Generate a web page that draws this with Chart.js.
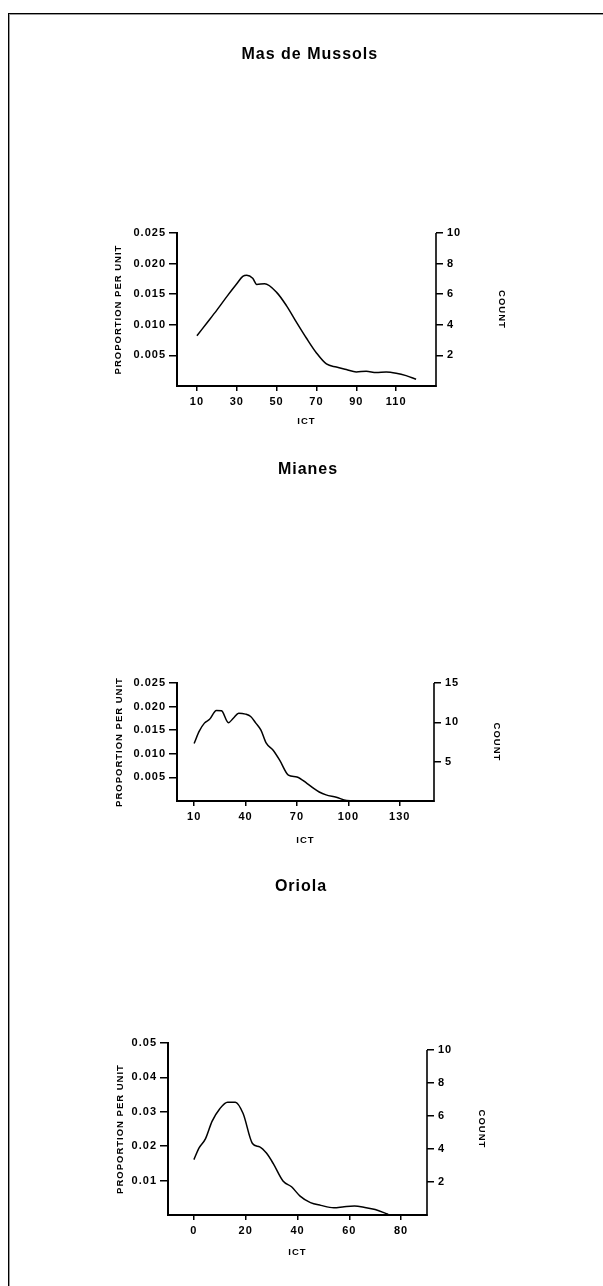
<!DOCTYPE html>
<html>
<head>
<meta charset="utf-8">
<script src="https://cdn.jsdelivr.net/npm/chart.js@4"></script>
<style>
  html, body { margin: 0; padding: 0; background: #fff; }
  body { width: 603px; height: 1286px; position: relative; overflow: hidden; }
  .frame { position: absolute; left: 8px; top: 13px; right: -4px; bottom: -4px;
           border-top: 1px solid #000; border-left: 1px solid #000; box-shadow: inset 1px 1px 0 #999; }
  canvas { position: absolute; left: 0; }
</style>
</head>
<body>
<div class="frame"></div>
<canvas id="c1" width="603" height="440" style="top:0px"></canvas>
<canvas id="c2" width="603" height="420" style="top:440px"></canvas>
<canvas id="c3" width="603" height="426" style="top:860px"></canvas>
<script>
// Mas de Mussols
var masIct = [10, 15, 20, 25, 30, 33, 35, 38, 40, 44, 50, 55, 60, 65, 70, 75, 80, 85, 90, 95, 100, 105, 110, 115, 120];
var masProp = [0.0082, 0.0103, 0.0124, 0.0146, 0.0167, 0.0179, 0.0181, 0.0176, 0.0166, 0.0167, 0.0153, 0.0131, 0.0104,
  0.0078, 0.0054, 0.0036, 0.0031, 0.0027, 0.0023, 0.0024, 0.0022, 0.0023, 0.0021, 0.0017, 0.0011];
var masXTicks = [10, 30, 50, 70, 90, 110];
var masPropTicks = [0.005, 0.010, 0.015, 0.020, 0.025];
var masCountTicks = [2, 4, 6, 8, 10];

// Mianes
var mianesIct = [10, 13, 16, 19, 23, 26, 30, 33, 36, 40, 43, 46, 49, 52, 56, 60, 65, 70, 76, 80, 83, 87, 93, 99, 110, 125, 145];
var mianesProp = [0.0122, 0.0148, 0.0165, 0.0173, 0.0192, 0.0191, 0.0166, 0.0176, 0.0186, 0.0184, 0.0179, 0.0165, 0.0150,
  0.0123, 0.0108, 0.0086, 0.0055, 0.0051, 0.0037, 0.0026, 0.0019, 0.0013, 0.0008, 0.0001, 0, 0, 0];
var mianesXTicks = [10, 40, 70, 100, 130];
var mianesPropTicks = [0.005, 0.010, 0.015, 0.020, 0.025];
var mianesCountTicks = [5, 10, 15];

// Oriola
var oriolaIct = [0, 2, 4.5, 7, 10, 13, 16, 19, 22.6, 25.4, 28, 30.6, 34.4, 37.7, 41, 45, 49, 54, 58, 62, 66, 70, 75];
var oriolaProp = [0.0161, 0.0195, 0.0222, 0.0272, 0.0309, 0.0328, 0.0328, 0.0295, 0.0208, 0.0198, 0.0180, 0.0150, 0.0099,
  0.0082, 0.0055, 0.0036, 0.0028, 0.0021, 0.0024, 0.0026, 0.0022, 0.0016, 0.0002];
var oriolaXTicks = [0, 20, 40, 60, 80];
var oriolaPropTicks = [0.01, 0.02, 0.03, 0.04, 0.05];
var oriolaCountTicks = [2, 4, 6, 8, 10];

Chart.defaults.font.family = "'Liberation Sans', Arial, sans-serif";
Chart.defaults.font.weight = "bold";
Chart.defaults.color = "#000";

// the printed figure has slightly spaced lettering
var spacing = {
  id: "spacing",
  beforeUpdate: function (chart) { chart.ctx.letterSpacing = "1px"; },
  beforeDraw: function (chart) { chart.ctx.letterSpacing = "1px"; }
};

// count axis line runs from its top tick down to the x axis
var countLine = {
  id: "countLine",
  afterDraw: function (chart) {
    var s = chart.scales.y2, ctx = chart.ctx;
    var top = s.getPixelForValue(s.ticks[s.ticks.length - 1].value);
    ctx.save();
    ctx.strokeStyle = "#000";
    ctx.lineWidth = 1.6;
    ctx.beginPath();
    ctx.moveTo(s.left, top);
    ctx.lineTo(s.left, chart.chartArea.bottom + 1);
    ctx.stroke();
    ctx.restore();
  }
};

function ticksFrom(arr) {
  return function (s) { s.ticks = arr.map(function (v) { return { value: v }; }); };
}

function makeChart(id, o) {
  var pts = o.ict.map(function (x, i) { return { x: x, y: o.prop[i] }; });
  var axisTitleFont = { size: 9.5, weight: "bold" };
  return new Chart(document.getElementById(id).getContext("2d"), {
    type: "scatter",
    data: {
      datasets: [{
        data: pts,
        showLine: true,
        borderColor: "#000",
        borderWidth: 1.5,
        pointRadius: 0,
        cubicInterpolationMode: "monotone",
        yAxisID: "y"
      }]
    },
    options: {
      responsive: false,
      animation: false,
      layout: { padding: { top: 0, left: o.pad[0], right: o.pad[1], bottom: o.pad[2] } },
      plugins: {
        legend: { display: false },
        tooltip: { enabled: false },
        title: {
          display: true,
          text: o.title,
          color: "#000",
          font: { size: 16, weight: "bold" },
          padding: { top: o.titlePad[0], bottom: o.titlePad[1] }
        }
      },
      scales: {
        x: {
          type: "linear",
          min: o.xRange[0],
          max: o.xRange[1],
          afterBuildTicks: ticksFrom(o.xTicks),
          afterFit: function (s) { s.height = o.size[2]; },
          ticks: { font: { size: 11 }, padding: 4, maxRotation: 0, autoSkip: false,
                   callback: function (v) { return String(v); } },
          grid: { drawOnChartArea: false, tickLength: 5, color: "#000", lineWidth: 1.5 },
          border: { color: "#000", width: 2 },
          title: { display: true, text: "ICT", font: axisTitleFont, padding: 0 }
        },
        y: {
          position: "left",
          min: 0,
          max: o.propMax,
          afterBuildTicks: ticksFrom(o.propTicks),
          afterFit: function (s) { s.width = o.size[0]; },
          ticks: { font: { size: 11 }, padding: 3,
                   callback: function (v) { return v.toFixed(o.dec); } },
          grid: { drawOnChartArea: false, tickLength: 8, color: "#000", lineWidth: 1.5 },
          border: { color: "#000", width: 2 },
          title: { display: true, text: "PROPORTION PER UNIT", font: axisTitleFont, padding: 0 }
        },
        y2: {
          position: "right",
          min: 0,
          max: o.countMax,
          afterBuildTicks: ticksFrom(o.countTicks),
          afterFit: function (s) { s.width = o.size[1]; },
          ticks: { font: { size: 11 }, padding: 4,
                   callback: function (v) { return String(v); } },
          grid: { drawOnChartArea: false, tickLength: 7, color: "#000", lineWidth: 1.5 },
          border: { display: false },
          title: { display: true, text: "COUNT", font: axisTitleFont, padding: 0 }
        }
      }
    },
    plugins: [spacing, countLine]
  });
}

makeChart("c1", {
  title: "Mas de Mussols", titlePad: [45.4, 168.4],
  ict: masIct, prop: masProp, xRange: [0, 130], xTicks: masXTicks,
  propMax: 0.025, propTicks: masPropTicks, dec: 3,
  countMax: 10, countTicks: masCountTicks,
  pad: [112.3, 95.6, 13.3], size: [64.7, 71.4, 40.7]
});

makeChart("c2", {
  title: "Mianes", titlePad: [20.4, 203.4],
  ict: mianesIct, prop: mianesProp, xRange: [0, 150], xTicks: mianesXTicks,
  propMax: 0.025, propTicks: mianesPropTicks, dec: 3,
  countMax: 15, countTicks: mianesCountTicks,
  pad: [113.3, 100.3, 14.3], size: [63.7, 68.7, 44.7]
});

makeChart("c3", {
  title: "Oriola", titlePad: [17.4, 146.4],
  ict: oriolaIct, prop: oriolaProp, xRange: [-10, 90], xTicks: oriolaXTicks,
  propMax: 0.05, propTicks: oriolaPropTicks, dec: 2,
  countMax: 10.42, countTicks: oriolaCountTicks,
  pad: [114.3, 115.3, 28.3], size: [53.7, 60.7, 42.7]
});
</script>
</body>
</html>
